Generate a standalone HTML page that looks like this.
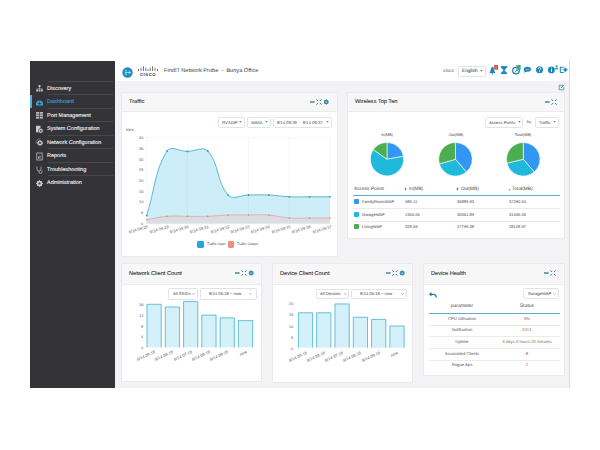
<!DOCTYPE html>
<html><head><meta charset="utf-8">
<style>
*{box-sizing:border-box;margin:0;padding:0}
html,body{width:600px;height:450px;background:#fff;overflow:hidden;font-family:"Liberation Sans",sans-serif;position:relative}
.a{position:absolute}
#side{left:30px;top:61px;width:85px;height:327px;background:#343438}
.sep{position:absolute;left:17.5px;width:65px;height:1px;background:#48484c}
.mi{position:absolute;left:17.3px;font-size:5.5px;color:#ececec;font-weight:normal;white-space:nowrap;line-height:6px;-webkit-text-stroke:0.12px #ececec}
#hdr{left:115px;top:60px;width:454px;height:21px;background:#fff}
#content{left:115px;top:81px;width:454px;height:307px;background:#f3f3f5}
#rline{left:569px;top:60px;width:1px;height:328px;background:#dcdcdc}
.panel{position:absolute;background:#fff;border:1px solid #eaeaed}
.ph{position:absolute;left:0;top:0;right:0;background:#f7f7f8;border-bottom:1px solid #ececee}
.pt{position:absolute;font-size:5.6px;color:#2a2a2a;white-space:nowrap;line-height:6px;-webkit-text-stroke:0.08px #2a2a2a}
.dd{position:absolute;border:0.8px solid #e3e3e3;border-radius:1.5px;background:#fff}
.sm{font-size:3.6px;color:#555;white-space:nowrap;line-height:4px;position:absolute;transform:matrix(1,0.001,0,1,0,0)}
.uh{transform:matrix(1,0.001,0,1,0,0)}
</style></head><body>
<div id="side" class="a">
<div class="sep" style="top:20.00px"></div>
<div class="sep" style="top:33.43px"></div>
<div class="sep" style="top:46.86px"></div>
<div class="sep" style="top:60.29px"></div>
<div class="sep" style="top:73.72px"></div>
<div class="sep" style="top:87.15px"></div>
<div class="sep" style="top:100.58px"></div>
<div class="sep" style="top:114.01px"></div>
<div class="mi uh" style="top:24.00px">Discovery</div>
<div class="mi uh" style="top:37.43px;color:#3aa3d6;-webkit-text-stroke:0.1px #3aa3d6">Dashboard</div>
<div class="mi uh" style="top:50.86px">Port Management</div>
<div class="mi uh" style="top:64.29px">System Configuration</div>
<div class="mi uh" style="top:77.72px">Network Configuration</div>
<div class="mi uh" style="top:91.15px">Reports</div>
<div class="mi uh" style="top:104.58px">Troubleshooting</div>
<div class="mi uh" style="top:118.01px">Administration</div>
<div class="a" style="left:0;top:34px;width:2px;height:13.4px;background:#4fb0de"></div>
<svg class="a" style="left:5px;top:23px" width="9" height="9" viewBox="0 0 9 9"><g fill="#c4c4c4"><rect x="3.5" y="1" width="2" height="2"/><rect x="4.2" y="3" width="0.6" height="2"/><rect x="1.5" y="4.6" width="6" height="0.6"/><rect x="1.2" y="5.5" width="1.8" height="2"/><rect x="3.6" y="5.5" width="1.8" height="2"/><rect x="6" y="5.5" width="1.8" height="2"/></g></svg>
<svg class="a" style="left:5px;top:36.5px" width="9" height="9" viewBox="0 0 9 9"><path d="M1 7.5 V6 A3.5 3.5 0 0 1 8 6 V7.5 Z" fill="#3aa3d6"/><circle cx="4.5" cy="5.6" r="1.1" fill="#343438"/><path d="M2.2 5.3 L3.2 5.7 M6.8 5.3 L5.8 5.7 M4.5 3.2 V4.2" stroke="#343438" stroke-width="0.5"/></svg>
<svg class="a" style="left:5px;top:50px" width="9" height="9" viewBox="0 0 9 9"><g fill="#b8b8b8"><rect x="1" y="1" width="7" height="1.8"/><rect x="1" y="3.4" width="7" height="1.8"/><rect x="1" y="5.8" width="7" height="1.8"/></g><g fill="#343438"><rect x="4.2" y="1" width="0.6" height="7"/></g></svg>
<svg class="a" style="left:5px;top:63.5px" width="9" height="9" viewBox="0 0 9 9"><rect x="1" y="0.8" width="4.5" height="6.5" fill="#cfcfcf"/><circle cx="5.8" cy="5.8" r="2.4" fill="#cfcfcf" stroke="#323236" stroke-width="0.6"/><circle cx="5.8" cy="5.8" r="0.9" fill="#323236"/></svg>
<svg class="a" style="left:5px;top:77px" width="9" height="9" viewBox="0 0 9 9"><path d="M1.2 5.5 A3.5 3.5 0 0 1 5.5 1.1" fill="none" stroke="#9a9a9a" stroke-width="0.6"/><circle cx="5" cy="5" r="2" fill="none" stroke="#c8c8c8" stroke-width="1.2"/><g stroke="#c8c8c8" stroke-width="0.9"><path d="M5 2 V8 M2 5 H8 M2.9 2.9 L7.1 7.1 M7.1 2.9 L2.9 7.1"/></g><circle cx="5" cy="5" r="0.9" fill="#343438"/></svg>
<svg class="a" style="left:5px;top:90.5px" width="9" height="9" viewBox="0 0 9 9"><rect x="1.8" y="1" width="5.4" height="7" fill="none" stroke="#cfcfcf" stroke-width="0.7"/><rect x="3" y="4.5" width="0.8" height="2.2" fill="#cfcfcf"/><rect x="4.6" y="3.5" width="0.8" height="3.2" fill="#cfcfcf"/></svg>
<svg class="a" style="left:5px;top:104px" width="9" height="9" viewBox="0 0 9 9"><path d="M2 1.5 V4 A2 2 0 0 0 6 4 V1.5 M4 6 V7 A1.5 1.5 0 0 0 7 7 V5.5" fill="none" stroke="#c8c8c8" stroke-width="0.7"/></svg>
<svg class="a" style="left:5px;top:117.5px" width="9" height="9" viewBox="0 0 9 9"><circle cx="4.5" cy="4.5" r="2.2" fill="none" stroke="#c8c8c8" stroke-width="1.3"/><g stroke="#c8c8c8" stroke-width="1"><path d="M4.5 1.2 V7.8 M1.2 4.5 H7.8 M2.2 2.2 L6.8 6.8 M6.8 2.2 L2.2 6.8"/></g><circle cx="4.5" cy="4.5" r="1" fill="#343438"/></svg>
</div>
<div id="hdr" class="a">
<svg class="a" style="left:6.5px;top:6.5px" width="11" height="11" viewBox="0 0 11 11"><circle cx="5.5" cy="5.5" r="5.2" fill="#1f8dc6"/><g stroke="#fff" stroke-width="0.7" fill="none"><path d="M3 3.8 H5 M3 5.5 H5.2 M3 7.2 H5 M5.5 5.5 H8.2 M7 4.2 L8.3 5.5 L7 6.8"/></g></svg>
<svg class="a" style="left:23px;top:6px" width="20" height="6" viewBox="0 0 20 6"><g fill="#555"><rect x="0.2" y="3" width="0.8" height="2"/><rect x="2.6" y="1.6" width="0.8" height="3.4"/><rect x="5" y="0.2" width="0.8" height="4.8"/><rect x="7.4" y="1.6" width="0.8" height="3.4"/><rect x="9.6" y="3" width="0.8" height="2"/><rect x="11.8" y="1.6" width="0.8" height="3.4"/><rect x="14.2" y="0.2" width="0.8" height="4.8"/><rect x="16.6" y="1.6" width="0.8" height="3.4"/><rect x="19" y="3" width="0.8" height="2"/></g></svg>
<div class="a uh" style="left:24.8px;top:12.6px;font-size:4.3px;font-weight:bold;color:#333;letter-spacing:0.5px;line-height:4.5px">CISCO</div>
<div class="a uh" style="left:49px;top:7px;font-size:5.6px;color:#444;white-space:pre;line-height:6px">FindIT Network Probe  -  Bunya Office</div>
<div class="a uh" style="left:327.5px;top:7.9px;font-size:4.8px;color:#555;line-height:6px">cisco</div>
<div class="a" style="left:343.3px;top:6.2px;width:28px;height:10.5px;border:0.8px solid #e3e3e3;border-radius:1.5px"></div><div class="a uh" style="left:347.2px;top:8.1px;font-size:4.8px;color:#222;line-height:6px">English</div><svg class="a" style="left:365px;top:10.3px" width="3" height="2" viewBox="0 0 3 2"><path d="M0.3 0.3 H2.7 L1.5 1.6 Z" fill="#444"/></svg>
<svg class="a" style="left:370px;top:0" width="84" height="21" viewBox="0 0 84 21">
<g fill="#1a86bf">
<path d="M4.4 12.9 Q5.6 11.8 5.8 9.2 Q6 6.7 7.4 6.7 Q8.8 6.7 9 9.2 Q9.2 11.8 10.4 12.9 Z"/><rect x="6.9" y="13" width="1" height="1.4"/>
<path d="M16 6.3 H22 V7.4 L19.4 10.2 L22 13 V14 H16 V13 L18.6 10.2 L16 7.4 Z"/>
</g>
<rect x="9.2" y="5" width="3.8" height="4.6" fill="#d4463f"/><rect x="10.8" y="5.8" width="0.6" height="2.8" fill="#f4c0bd"/>
<path d="M15.6 6.6 H22.4" stroke="#1a86bf" stroke-width="0.6"/>
<circle cx="31" cy="10.6" r="3.3" fill="none" stroke="#1a78b0" stroke-width="1.2"/>
<path d="M30 12.5 L32 9.5 L33.5 11.5" fill="none" stroke="#1a86bf" stroke-width="1"/>
<rect x="31.5" y="5" width="4.2" height="4.6" fill="#3daa86"/>
<ellipse cx="42.4" cy="9.3" rx="3.6" ry="2.5" fill="#1a86bf"/><path d="M39.5 10.5 L39.3 13 L41.5 11.2 Z" fill="#1a86bf"/>
<rect x="40.6" y="9" width="3.6" height="0.6" fill="#bfe6f5"/>
<circle cx="54.5" cy="9.8" r="3.5" fill="#1a86bf"/>
<path d="M53.2 8.8 Q53.2 7.4 54.5 7.4 Q55.8 7.4 55.8 8.6 Q55.8 9.4 54.6 10 V10.8" fill="none" stroke="#fff" stroke-width="0.8"/><rect x="54.2" y="11.3" width="0.8" height="0.8" fill="#fff"/>
<circle cx="66.4" cy="9.9" r="3.4" fill="#1a86bf"/>
<rect x="66" y="9" width="0.9" height="3" fill="#fff"/><rect x="66" y="7.5" width="0.9" height="0.9" fill="#fff"/>
<circle cx="71.6" cy="6.2" r="1.1" fill="#3daa86"/><path d="M69.8 9.4 Q69.8 7.4 71.6 7.4 Q73.4 7.4 73.4 9.4 Z" fill="#3daa86"/>
<path d="M78.6 7.2 H76 Q75.3 7.2 75.3 7.9 V11.8 Q75.3 12.5 76 12.5 H78.6" fill="none" stroke="#1a86bf" stroke-width="1.1"/>
<path d="M77.5 9.8 H81 M80 8.2 L82 9.8 L80 11.4 Z" fill="#1a86bf" stroke="#1a86bf" stroke-width="1.1"/>
</svg>
</div>
<div id="content" class="a"></div>
<div id="rline" class="a"></div>
<!--PANELS-->
<div class="panel" style="left:121px;top:92px;width:217px;height:165px"><div class="ph" style="height:19px"></div></div>
<div class="pt uh" style="left:129px;top:97.90px">Traffic</div>
<div class="panel" style="left:347px;top:92px;width:218px;height:147px"><div class="ph" style="height:19px"></div></div>
<div class="pt uh" style="left:355px;top:97.90px">Wireless Top Ten</div>
<div class="panel" style="left:121px;top:263px;width:141px;height:119px"><div class="ph" style="height:21px"></div></div>
<div class="pt uh" style="left:129px;top:269.90px">Network Client Count</div>
<div class="panel" style="left:272px;top:263px;width:141px;height:120px"><div class="ph" style="height:21px"></div></div>
<div class="pt uh" style="left:280px;top:269.90px">Device Client Count</div>
<div class="panel" style="left:423px;top:263px;width:142px;height:113px"><div class="ph" style="height:21px"></div></div>
<div class="pt uh" style="left:431px;top:269.90px">Device Health</div>
<svg class="a" style="left:0;top:0" width="600" height="450" viewBox="0 0 600 450">
<path d="M146.7 137.5 H330" stroke="#f0f0f0" stroke-width="0.5"/>
<path d="M248.5 137.5 V223.6" stroke="#ededed" stroke-width="0.5"/>
<path d="M289.3 137.5 V223.6" stroke="#ededed" stroke-width="0.5"/>
<path d="M330 137.5 V223.6" stroke="#ededed" stroke-width="0.5"/>
<path d="M146.70 215.60 C154.85 189.76 154.54 170.74 167.07 151.00 C170.83 145.06 179.29 151.40 187.43 151.40 C195.58 151.40 202.99 145.83 207.80 151.00 C219.29 163.35 216.68 182.79 228.17 195.20 C232.97 200.39 240.39 195.04 248.53 195.00 C256.68 194.96 260.77 194.64 268.90 195.00 C277.06 195.36 281.10 196.44 289.27 196.80 C297.40 197.16 301.49 196.80 309.63 196.80 C317.78 196.80 321.85 196.80 330.00 196.80 L330 223.6 L146.7 223.6 Z" fill="#cdeef9"/>
<defs><clipPath id="bfill"><path d="M146.70 215.60 C154.85 189.76 154.54 170.74 167.07 151.00 C170.83 145.06 179.29 151.40 187.43 151.40 C195.58 151.40 202.99 145.83 207.80 151.00 C219.29 163.35 216.68 182.79 228.17 195.20 C232.97 200.39 240.39 195.04 248.53 195.00 C256.68 194.96 260.77 194.64 268.90 195.00 C277.06 195.36 281.10 196.44 289.27 196.80 C297.40 197.16 301.49 196.80 309.63 196.80 C317.78 196.80 321.85 196.80 330.00 196.80 L330 223.6 L146.7 223.6 Z"/></clipPath></defs>
<g clip-path="url(#bfill)">
<path d="M187.4 137 V223.6" stroke="#bfe0ea" stroke-width="0.5"/>
<path d="M248.5 137 V223.6" stroke="#bfe0ea" stroke-width="0.5"/>
<path d="M289.3 137 V223.6" stroke="#bfe0ea" stroke-width="0.5"/>
<path d="M330 137 V223.6" stroke="#bfe0ea" stroke-width="0.5"/>
</g>
<path d="M146.70 219.70 C154.85 218.34 158.86 216.98 167.07 216.30 C175.16 215.62 179.29 216.30 187.43 216.30 C195.58 216.30 199.66 216.56 207.80 216.30 C215.95 216.04 220.01 215.26 228.17 215.00 C236.31 214.74 240.39 215.00 248.53 215.00 C256.68 215.00 260.80 214.40 268.90 215.00 C277.09 215.60 281.08 217.40 289.27 218.00 C297.37 218.60 301.49 218.00 309.63 218.00 C317.78 218.00 321.85 218.00 330.00 218.00 L330 223.6 L146.7 223.6 Z" fill="#dcdde1"/>
<path d="M146.7 137.5 V223.6" stroke="#ececec" stroke-width="0.5" fill="none"/>
<path d="M146.70 215.60 C154.85 189.76 154.54 170.74 167.07 151.00 C170.83 145.06 179.29 151.40 187.43 151.40 C195.58 151.40 202.99 145.83 207.80 151.00 C219.29 163.35 216.68 182.79 228.17 195.20 C232.97 200.39 240.39 195.04 248.53 195.00 C256.68 194.96 260.77 194.64 268.90 195.00 C277.06 195.36 281.10 196.44 289.27 196.80 C297.40 197.16 301.49 196.80 309.63 196.80 C317.78 196.80 321.85 196.80 330.00 196.80" stroke="#3ba7c3" stroke-width="0.8" fill="none"/>
<path d="M146.70 219.70 C154.85 218.34 158.86 216.98 167.07 216.30 C175.16 215.62 179.29 216.30 187.43 216.30 C195.58 216.30 199.66 216.56 207.80 216.30 C215.95 216.04 220.01 215.26 228.17 215.00 C236.31 214.74 240.39 215.00 248.53 215.00 C256.68 215.00 260.80 214.40 268.90 215.00 C277.09 215.60 281.08 217.40 289.27 218.00 C297.37 218.60 301.49 218.00 309.63 218.00 C317.78 218.00 321.85 218.00 330.00 218.00" stroke="#ec8b86" stroke-width="0.6" fill="none"/>
<circle cx="146.70" cy="215.6" r="0.9" fill="#2f9bb8"/>
<circle cx="167.07" cy="151" r="0.9" fill="#2f9bb8"/>
<circle cx="187.43" cy="151.4" r="0.9" fill="#2f9bb8"/>
<circle cx="207.80" cy="151" r="0.9" fill="#2f9bb8"/>
<circle cx="228.17" cy="195.2" r="0.9" fill="#2f9bb8"/>
<circle cx="248.53" cy="195" r="0.9" fill="#2f9bb8"/>
<circle cx="268.90" cy="195" r="0.9" fill="#2f9bb8"/>
<circle cx="289.27" cy="196.8" r="0.9" fill="#2f9bb8"/>
<circle cx="309.63" cy="196.8" r="0.9" fill="#2f9bb8"/>
<circle cx="330.00" cy="196.8" r="0.9" fill="#2f9bb8"/>
<circle cx="146.70" cy="219.7" r="0.7" fill="#e8706a"/>
<circle cx="167.07" cy="216.3" r="0.7" fill="#e8706a"/>
<circle cx="187.43" cy="216.3" r="0.7" fill="#e8706a"/>
<circle cx="207.80" cy="216.3" r="0.7" fill="#e8706a"/>
<circle cx="228.17" cy="215" r="0.7" fill="#e8706a"/>
<circle cx="248.53" cy="215" r="0.7" fill="#e8706a"/>
<circle cx="268.90" cy="215" r="0.7" fill="#e8706a"/>
<circle cx="289.27" cy="218" r="0.7" fill="#e8706a"/>
<circle cx="309.63" cy="218" r="0.7" fill="#e8706a"/>
<circle cx="330.00" cy="218" r="0.7" fill="#e8706a"/>
</svg>
<div class="sm" style="right:456.80px;top:221.86px;font-size:3.9px;line-height:4.68px;color:#555;">0</div>
<div class="sm" style="right:456.80px;top:211.16px;font-size:3.9px;line-height:4.68px;color:#555;">5</div>
<div class="sm" style="right:456.80px;top:200.46px;font-size:3.9px;line-height:4.68px;color:#555;">10</div>
<div class="sm" style="right:456.80px;top:189.76px;font-size:3.9px;line-height:4.68px;color:#555;">15</div>
<div class="sm" style="right:456.80px;top:179.06px;font-size:3.9px;line-height:4.68px;color:#555;">20</div>
<div class="sm" style="right:456.80px;top:168.36px;font-size:3.9px;line-height:4.68px;color:#555;">25</div>
<div class="sm" style="right:456.80px;top:157.66px;font-size:3.9px;line-height:4.68px;color:#555;">30</div>
<div class="sm" style="right:456.80px;top:146.96px;font-size:3.9px;line-height:4.68px;color:#555;">35</div>
<div class="sm" style="right:456.80px;top:136.26px;font-size:3.9px;line-height:4.68px;color:#555;">40</div>
<div class="sm" style="left:125.80px;top:128.22px;font-size:3.8px;line-height:4.56px;color:#555;">Kb/s</div>
<div class="sm" style="left:121.20px;top:225.3px;width:26px;text-align:right;font-size:4.1px;line-height:4.2px;color:#555;transform-origin:100% 0;transform:rotate(-17deg)">8/14 09:28</div>
<div class="sm" style="left:141.57px;top:225.3px;width:26px;text-align:right;font-size:4.1px;line-height:4.2px;color:#555;transform-origin:100% 0;transform:rotate(-17deg)">8/14 09:29</div>
<div class="sm" style="left:161.93px;top:225.3px;width:26px;text-align:right;font-size:4.1px;line-height:4.2px;color:#555;transform-origin:100% 0;transform:rotate(-17deg)">8/14 09:30</div>
<div class="sm" style="left:182.30px;top:225.3px;width:26px;text-align:right;font-size:4.1px;line-height:4.2px;color:#555;transform-origin:100% 0;transform:rotate(-17deg)">8/14 09:31</div>
<div class="sm" style="left:202.67px;top:225.3px;width:26px;text-align:right;font-size:4.1px;line-height:4.2px;color:#555;transform-origin:100% 0;transform:rotate(-17deg)">8/14 09:32</div>
<div class="sm" style="left:223.03px;top:225.3px;width:26px;text-align:right;font-size:4.1px;line-height:4.2px;color:#555;transform-origin:100% 0;transform:rotate(-17deg)">8/14 09:33</div>
<div class="sm" style="left:243.40px;top:225.3px;width:26px;text-align:right;font-size:4.1px;line-height:4.2px;color:#555;transform-origin:100% 0;transform:rotate(-17deg)">8/14 09:34</div>
<div class="sm" style="left:263.77px;top:225.3px;width:26px;text-align:right;font-size:4.1px;line-height:4.2px;color:#555;transform-origin:100% 0;transform:rotate(-17deg)">8/14 09:35</div>
<div class="sm" style="left:284.13px;top:225.3px;width:26px;text-align:right;font-size:4.1px;line-height:4.2px;color:#555;transform-origin:100% 0;transform:rotate(-17deg)">8/14 09:36</div>
<div class="sm" style="left:304.50px;top:225.3px;width:26px;text-align:right;font-size:4.1px;line-height:4.2px;color:#555;transform-origin:100% 0;transform:rotate(-17deg)">8/14 09:37</div>
<div class="a" style="left:197.2px;top:240.8px;width:6.8px;height:6.8px;background:#1ea8dc;border-radius:1.4px"></div>
<div class="sm" style="left:206.5px;top:242.2px;font-size:3.5px;color:#444">Traffic Input</div>
<div class="a" style="left:227.5px;top:240.8px;width:6.8px;height:6.8px;background:#f28b80;border-radius:1.4px"></div>
<div class="sm" style="left:237px;top:242.2px;font-size:3.5px;color:#444">Traffic Output</div>
<svg class="a" style="left:309px;top:97.6px" width="22" height="8" viewBox="0 0 22 8"><rect x="1" y="3.3" width="4.6" height="1.4" fill="#3d7f8c"/><g stroke="#3d7f8c" stroke-width="0.7" fill="none"><path d="M7.2 1.2 L8.6 2.6 M12.8 1.2 L11.4 2.6 M7.2 6.8 L8.6 5.4 M12.8 6.8 L11.4 5.4"/></g><g fill="#3d7f8c"><path d="M9.1 1.6 V3.1 H7.6 Z M10.9 1.6 V3.1 H12.4 Z M9.1 6.4 V4.9 H7.6 Z M10.9 6.4 V4.9 H12.4 Z"/></g><circle cx="17.2" cy="4" r="1.7" fill="none" stroke="#3a8ea8" stroke-width="1.2"/><g stroke="#3a8ea8" stroke-width="0.8"><path d="M17.2 1.4 V6.6 M14.6 4 H19.8 M15.4 2.2 L19 5.8 M19 2.2 L15.4 5.8"/></g><circle cx="17.2" cy="4" r="0.6" fill="#d8eef5"/></svg>
<div class="dd" style="left:217.5px;top:117.1px;width:27.0px;height:10.5px"></div>
<div class="sm" style="left:221.50px;top:119.83px;font-size:4.2px;line-height:5.04px;color:#444;white-space:pre">RV345P</div>
<svg class="a" style="left:238.60px;top:121.35px" width="3" height="2" viewBox="0 0 3 2"><path d="M0.3 0.3 H2.7 L1.5 1.6 Z" fill="#444"/></svg>
<div class="dd" style="left:247px;top:117.1px;width:23.80000000000001px;height:10.5px"></div>
<div class="sm" style="left:250.60px;top:119.83px;font-size:4.2px;line-height:5.04px;color:#444;white-space:pre">WAN1</div>
<svg class="a" style="left:265.00px;top:121.35px" width="3" height="2" viewBox="0 0 3 2"><path d="M0.3 0.3 H2.7 L1.5 1.6 Z" fill="#444"/></svg>
<div class="dd" style="left:273px;top:117.1px;width:58.80000000000001px;height:10.5px"></div>
<div class="sm" style="left:277.00px;top:119.83px;font-size:4.2px;line-height:5.04px;color:#444;white-space:pre">8/14 09:39  -  8/14 09:37</div>
<svg class="a" style="left:325.80px;top:121.35px" width="3" height="2" viewBox="0 0 3 2"><path d="M0.3 0.3 H2.7 L1.5 1.6 Z" fill="#444"/></svg>
<svg class="a" style="left:544px;top:97.6px" width="22" height="8" viewBox="0 0 22 8"><rect x="1" y="3.3" width="4.6" height="1.4" fill="#3d7f8c"/><g stroke="#3d7f8c" stroke-width="0.7" fill="none"><path d="M7.2 1.2 L8.6 2.6 M12.8 1.2 L11.4 2.6 M7.2 6.8 L8.6 5.4 M12.8 6.8 L11.4 5.4"/></g><g fill="#3d7f8c"><path d="M9.1 1.6 V3.1 H7.6 Z M10.9 1.6 V3.1 H12.4 Z M9.1 6.4 V4.9 H7.6 Z M10.9 6.4 V4.9 H12.4 Z"/></g></svg>
<svg class="a" style="left:558.3px;top:84px" width="7" height="7" viewBox="0 0 7 7"><path d="M5 1.2 H1.2 V5.8 H5.8 V3" fill="none" stroke="#3a8ea8" stroke-width="0.8"/><path d="M3 4 L6.2 0.8" stroke="#3a8ea8" stroke-width="0.8"/></svg>
<div class="dd" style="left:485.3px;top:117.1px;width:37.99999999999994px;height:10.5px"></div>
<div class="sm" style="left:488.90px;top:119.83px;font-size:4.2px;line-height:5.04px;color:#444;white-space:pre">Access Points</div>
<svg class="a" style="left:517.70px;top:121.35px" width="3" height="2" viewBox="0 0 3 2"><path d="M0.3 0.3 H2.7 L1.5 1.6 Z" fill="#444"/></svg>
<div class="sm" style="left:526.50px;top:119.80px;font-size:4.0px;line-height:4.80px;color:#555;">by</div>
<div class="dd" style="left:535.2px;top:117.1px;width:23.699999999999932px;height:10.5px"></div>
<div class="sm" style="left:539.00px;top:119.83px;font-size:4.2px;line-height:5.04px;color:#444;white-space:pre">Traffic</div>
<svg class="a" style="left:553.00px;top:121.35px" width="3" height="2" viewBox="0 0 3 2"><path d="M0.3 0.3 H2.7 L1.5 1.6 Z" fill="#444"/></svg>
<svg class="a" style="left:0;top:0" width="600" height="450" viewBox="0 0 600 450"><path d="M387 159.2 L387.00 142.50 A16.7 16.7 0 0 1 403.45 156.30 Z" fill="#3396f2" stroke="#fff" stroke-width="0.6"/><path d="M387 159.2 L403.45 156.30 A16.7 16.7 0 1 1 373.32 149.62 Z" fill="#20b9dc" stroke="#fff" stroke-width="0.6"/><path d="M387 159.2 L373.32 149.62 A16.7 16.7 0 0 1 387.00 142.50 Z" fill="#4cae50" stroke="#fff" stroke-width="0.6"/><path d="M455.5 159.3 L455.50 142.50 A16.8 16.8 0 0 1 466.41 172.07 Z" fill="#3396f2" stroke="#fff" stroke-width="0.6"/><path d="M455.5 159.3 L466.41 172.07 A16.8 16.8 0 0 1 439.35 163.93 Z" fill="#20b9dc" stroke="#fff" stroke-width="0.6"/><path d="M455.5 159.3 L439.35 163.93 A16.8 16.8 0 0 1 455.50 142.50 Z" fill="#4cae50" stroke="#fff" stroke-width="0.6"/><path d="M523.3 159.3 L523.30 142.50 A16.8 16.8 0 0 1 534.32 171.98 Z" fill="#3396f2" stroke="#fff" stroke-width="0.6"/><path d="M523.3 159.3 L534.32 171.98 A16.8 16.8 0 0 1 506.93 163.08 Z" fill="#20b9dc" stroke="#fff" stroke-width="0.6"/><path d="M523.3 159.3 L506.93 163.08 A16.8 16.8 0 0 1 523.30 142.50 Z" fill="#4cae50" stroke="#fff" stroke-width="0.6"/></svg>
<div class="sm" style="left:347.00px;width:80px;text-align:center;top:133.06px;font-size:3.9px;line-height:4.68px;color:#444;">In(MB)</div>
<div class="sm" style="left:415.50px;width:80px;text-align:center;top:133.06px;font-size:3.9px;line-height:4.68px;color:#444;">Out(MB)</div>
<div class="sm" style="left:483.30px;width:80px;text-align:center;top:133.06px;font-size:3.9px;line-height:4.68px;color:#444;">Total(MB)</div>
<div class="sm" style="left:353.60px;top:186.12px;font-size:4.8px;line-height:5.76px;color:#444;">Access Points</div>
<svg class="a" style="left:404.20px;top:187.00px" width="3" height="4" viewBox="0 0 3 4"><path d="M0.4 1.7 H2.6 L1.5 0.5 Z M0.4 2.3 H2.6 L1.5 3.5 Z" fill="#555"/></svg>
<div class="sm" style="left:409.30px;top:186.18px;font-size:4.7px;line-height:5.64px;color:#444;">In(MB)</div>
<svg class="a" style="left:456.30px;top:187.00px" width="3" height="4" viewBox="0 0 3 4"><path d="M0.4 1.7 H2.6 L1.5 0.5 Z M0.4 2.3 H2.6 L1.5 3.5 Z" fill="#555"/></svg>
<div class="sm" style="left:460.60px;top:186.18px;font-size:4.7px;line-height:5.64px;color:#444;">Out(MB)</div>
<svg class="a" style="left:508.20px;top:188.10px" width="3" height="3" viewBox="0 0 3 3"><path d="M0.4 1.4 H2.6 L1.5 2.6 Z" fill="#444"/></svg>
<div class="sm" style="left:512.30px;top:186.12px;font-size:4.8px;line-height:5.76px;color:#444;">Total(MB)</div>
<div class="a" style="left:353px;top:194.6px;width:206.5px;height:0.9px;background:#5aaccc"></div>
<div class="a" style="left:353px;top:208px;width:206.5px;height:0.6px;background:#ebebeb"></div>
<div class="a" style="left:353px;top:221px;width:206.5px;height:0.6px;background:#ebebeb"></div>
<div class="a" style="left:353.6px;top:198.60px;width:5.2px;height:5px;background:#3396f2;border-radius:1px"></div>
<div class="sm" style="left:361.90px;top:199.64px;font-size:4.1px;line-height:4.92px;color:#444;">FamilyRoomWAP</div>
<div class="sm" style="left:404.80px;top:199.64px;font-size:4.1px;line-height:4.92px;color:#444;">480.11</div>
<div class="sm" style="left:456.90px;top:199.64px;font-size:4.1px;line-height:4.92px;color:#444;">36889.93</div>
<div class="sm" style="left:508.50px;top:199.64px;font-size:4.1px;line-height:4.92px;color:#444;">37290.04</div>
<div class="a" style="left:353.6px;top:211.60px;width:5.2px;height:5px;background:#20b9dc;border-radius:1px"></div>
<div class="sm" style="left:361.90px;top:212.64px;font-size:4.1px;line-height:4.92px;color:#444;">GarageWAP</div>
<div class="sm" style="left:404.80px;top:212.64px;font-size:4.1px;line-height:4.92px;color:#444;">1354.06</div>
<div class="sm" style="left:456.90px;top:212.64px;font-size:4.1px;line-height:4.92px;color:#444;">30051.89</div>
<div class="sm" style="left:508.50px;top:212.64px;font-size:4.1px;line-height:4.92px;color:#444;">31406.05</div>
<div class="a" style="left:353.6px;top:224.10px;width:5.2px;height:5px;background:#4cae50;border-radius:1px"></div>
<div class="sm" style="left:361.90px;top:225.14px;font-size:4.1px;line-height:4.92px;color:#444;">LivingWAP</div>
<div class="sm" style="left:404.80px;top:225.14px;font-size:4.1px;line-height:4.92px;color:#444;">328.59</div>
<div class="sm" style="left:456.90px;top:225.14px;font-size:4.1px;line-height:4.92px;color:#444;">27799.38</div>
<div class="sm" style="left:508.50px;top:225.14px;font-size:4.1px;line-height:4.92px;color:#444;">28128.97</div>
<svg class="a" style="left:233.5px;top:269px" width="22" height="8" viewBox="0 0 22 8"><rect x="1" y="3.3" width="4.6" height="1.4" fill="#3d7f8c"/><g stroke="#3d7f8c" stroke-width="0.7" fill="none"><path d="M7.2 1.2 L8.6 2.6 M12.8 1.2 L11.4 2.6 M7.2 6.8 L8.6 5.4 M12.8 6.8 L11.4 5.4"/></g><g fill="#3d7f8c"><path d="M9.1 1.6 V3.1 H7.6 Z M10.9 1.6 V3.1 H12.4 Z M9.1 6.4 V4.9 H7.6 Z M10.9 6.4 V4.9 H12.4 Z"/></g><circle cx="17.2" cy="4" r="1.7" fill="none" stroke="#3a8ea8" stroke-width="1.2"/><g stroke="#3a8ea8" stroke-width="0.8"><path d="M17.2 1.4 V6.6 M14.6 4 H19.8 M15.4 2.2 L19 5.8 M19 2.2 L15.4 5.8"/></g><circle cx="17.2" cy="4" r="0.6" fill="#d8eef5"/></svg>
<div class="dd" style="left:168.3px;top:288.2px;width:29.399999999999977px;height:11.5px"></div>
<div class="sm" style="left:172.50px;top:291.43px;font-size:4.2px;line-height:5.04px;color:#444;white-space:pre">All SSIDs</div>
<svg class="a" style="left:191.80px;top:292.95px" width="3" height="2" viewBox="0 0 3 2"><path d="M0.4 0.4 L1.5 1.5 L2.6 0.4" fill="none" stroke="#666" stroke-width="0.5"/></svg>
<div class="dd" style="left:199.8px;top:288.2px;width:57.099999999999966px;height:11.5px"></div>
<div class="sm" style="left:209.00px;top:291.43px;font-size:4.2px;line-height:5.04px;color:#444;white-space:pre">8/14 05:18 ~ now</div>
<svg class="a" style="left:249.30px;top:292.95px" width="3" height="2" viewBox="0 0 3 2"><path d="M0.4 0.4 L1.5 1.5 L2.6 0.4" fill="none" stroke="#666" stroke-width="0.5"/></svg>
<svg class="a" style="left:0;top:0" width="600" height="450" viewBox="0 0 600 450"><rect x="146.60" y="303.90" width="15" height="43.50" fill="#d4f0f9"/><path d="M147.00 347.4 V304.30 H161.20 V347.4" fill="none" stroke="#4db6cf" stroke-width="0.8"/><rect x="164.88" y="306.62" width="15" height="40.78" fill="#d4f0f9"/><path d="M165.28 347.4 V307.02 H179.48 V347.4" fill="none" stroke="#4db6cf" stroke-width="0.8"/><rect x="183.16" y="301.18" width="15" height="46.22" fill="#d4f0f9"/><path d="M183.56 347.4 V301.58 H197.76 V347.4" fill="none" stroke="#4db6cf" stroke-width="0.8"/><rect x="201.44" y="314.77" width="15" height="32.62" fill="#d4f0f9"/><path d="M201.84 347.4 V315.17 H216.04 V347.4" fill="none" stroke="#4db6cf" stroke-width="0.8"/><rect x="219.72" y="317.49" width="15" height="29.91" fill="#d4f0f9"/><path d="M220.12 347.4 V317.89 H234.32 V347.4" fill="none" stroke="#4db6cf" stroke-width="0.8"/><rect x="238.00" y="320.21" width="15" height="27.19" fill="#d4f0f9"/><path d="M238.40 347.4 V320.61 H252.60 V347.4" fill="none" stroke="#4db6cf" stroke-width="0.8"/></svg>
<div class="sm" style="right:456.80px;top:346.26px;font-size:3.9px;line-height:4.68px;color:#555;">0</div>
<div class="sm" style="right:456.80px;top:335.38px;font-size:3.9px;line-height:4.68px;color:#555;">4</div>
<div class="sm" style="right:456.80px;top:324.51px;font-size:3.9px;line-height:4.68px;color:#555;">8</div>
<div class="sm" style="right:456.80px;top:313.63px;font-size:3.9px;line-height:4.68px;color:#555;">12</div>
<div class="sm" style="right:456.80px;top:302.76px;font-size:3.9px;line-height:4.68px;color:#555;">16</div>
<div class="sm" style="left:124.10px;top:350.40px;width:30px;text-align:right;font-size:4.1px;line-height:4.2px;color:#555;transform-origin:100% 0;transform:rotate(-25deg)">8/14 05:18</div>
<div class="sm" style="left:142.38px;top:350.40px;width:30px;text-align:right;font-size:4.1px;line-height:4.2px;color:#555;transform-origin:100% 0;transform:rotate(-25deg)">8/14 06:18</div>
<div class="sm" style="left:160.66px;top:350.40px;width:30px;text-align:right;font-size:4.1px;line-height:4.2px;color:#555;transform-origin:100% 0;transform:rotate(-25deg)">8/14 07:18</div>
<div class="sm" style="left:178.94px;top:350.40px;width:30px;text-align:right;font-size:4.1px;line-height:4.2px;color:#555;transform-origin:100% 0;transform:rotate(-25deg)">8/14 08:18</div>
<div class="sm" style="left:197.22px;top:350.40px;width:30px;text-align:right;font-size:4.1px;line-height:4.2px;color:#555;transform-origin:100% 0;transform:rotate(-25deg)">8/14 09:18</div>
<div class="sm" style="left:215.50px;top:350.40px;width:30px;text-align:right;font-size:4.1px;line-height:4.2px;color:#555;transform-origin:100% 0;transform:rotate(-25deg)">now</div>
<svg class="a" style="left:384.6px;top:269px" width="22" height="8" viewBox="0 0 22 8"><rect x="1" y="3.3" width="4.6" height="1.4" fill="#3d7f8c"/><g stroke="#3d7f8c" stroke-width="0.7" fill="none"><path d="M7.2 1.2 L8.6 2.6 M12.8 1.2 L11.4 2.6 M7.2 6.8 L8.6 5.4 M12.8 6.8 L11.4 5.4"/></g><g fill="#3d7f8c"><path d="M9.1 1.6 V3.1 H7.6 Z M10.9 1.6 V3.1 H12.4 Z M9.1 6.4 V4.9 H7.6 Z M10.9 6.4 V4.9 H12.4 Z"/></g><circle cx="17.2" cy="4" r="1.7" fill="none" stroke="#3a8ea8" stroke-width="1.2"/><g stroke="#3a8ea8" stroke-width="0.8"><path d="M17.2 1.4 V6.6 M14.6 4 H19.8 M15.4 2.2 L19 5.8 M19 2.2 L15.4 5.8"/></g><circle cx="17.2" cy="4" r="0.6" fill="#d8eef5"/></svg>
<div class="dd" style="left:316.4px;top:288.6px;width:33.10000000000002px;height:10.699999999999989px"></div>
<div class="sm" style="left:320.30px;top:291.43px;font-size:4.2px;line-height:5.04px;color:#444;white-space:pre">All Devices</div>
<svg class="a" style="left:343.50px;top:292.95px" width="3" height="2" viewBox="0 0 3 2"><path d="M0.4 0.4 L1.5 1.5 L2.6 0.4" fill="none" stroke="#666" stroke-width="0.5"/></svg>
<div class="dd" style="left:351.2px;top:288.6px;width:56.10000000000002px;height:10.699999999999989px"></div>
<div class="sm" style="left:360.30px;top:291.43px;font-size:4.2px;line-height:5.04px;color:#444;white-space:pre">8/14 05:18 ~ now</div>
<svg class="a" style="left:401.30px;top:292.95px" width="3" height="2" viewBox="0 0 3 2"><path d="M0.4 0.4 L1.5 1.5 L2.6 0.4" fill="none" stroke="#666" stroke-width="0.5"/></svg>
<svg class="a" style="left:0;top:0" width="600" height="450" viewBox="0 0 600 450"><rect x="298.00" y="312.40" width="15" height="35.30" fill="#d4f0f9"/><path d="M298.40 347.7 V312.80 H312.60 V347.7" fill="none" stroke="#4db6cf" stroke-width="0.8"/><rect x="316.30" y="312.40" width="15" height="35.30" fill="#d4f0f9"/><path d="M316.70 347.7 V312.80 H330.90 V347.7" fill="none" stroke="#4db6cf" stroke-width="0.8"/><rect x="334.60" y="303.58" width="15" height="44.12" fill="#d4f0f9"/><path d="M335.00 347.7 V303.98 H349.20 V347.7" fill="none" stroke="#4db6cf" stroke-width="0.8"/><rect x="352.90" y="316.82" width="15" height="30.88" fill="#d4f0f9"/><path d="M353.30 347.7 V317.22 H367.50 V347.7" fill="none" stroke="#4db6cf" stroke-width="0.8"/><rect x="371.20" y="319.02" width="15" height="28.68" fill="#d4f0f9"/><path d="M371.60 347.7 V319.42 H385.80 V347.7" fill="none" stroke="#4db6cf" stroke-width="0.8"/><rect x="389.50" y="325.64" width="15" height="22.06" fill="#d4f0f9"/><path d="M389.90 347.7 V326.04 H404.10 V347.7" fill="none" stroke="#4db6cf" stroke-width="0.8"/></svg>
<div class="sm" style="right:306.50px;top:346.56px;font-size:3.9px;line-height:4.68px;color:#555;">0</div>
<div class="sm" style="right:306.50px;top:335.53px;font-size:3.9px;line-height:4.68px;color:#555;">5</div>
<div class="sm" style="right:306.50px;top:324.50px;font-size:3.9px;line-height:4.68px;color:#555;">10</div>
<div class="sm" style="right:306.50px;top:313.47px;font-size:3.9px;line-height:4.68px;color:#555;">15</div>
<div class="sm" style="right:306.50px;top:302.44px;font-size:3.9px;line-height:4.68px;color:#555;">20</div>
<div class="sm" style="left:275.50px;top:350.70px;width:30px;text-align:right;font-size:4.1px;line-height:4.2px;color:#555;transform-origin:100% 0;transform:rotate(-25deg)">8/14 05:18</div>
<div class="sm" style="left:293.80px;top:350.70px;width:30px;text-align:right;font-size:4.1px;line-height:4.2px;color:#555;transform-origin:100% 0;transform:rotate(-25deg)">8/14 06:18</div>
<div class="sm" style="left:312.10px;top:350.70px;width:30px;text-align:right;font-size:4.1px;line-height:4.2px;color:#555;transform-origin:100% 0;transform:rotate(-25deg)">8/14 07:18</div>
<div class="sm" style="left:330.40px;top:350.70px;width:30px;text-align:right;font-size:4.1px;line-height:4.2px;color:#555;transform-origin:100% 0;transform:rotate(-25deg)">8/14 08:18</div>
<div class="sm" style="left:348.70px;top:350.70px;width:30px;text-align:right;font-size:4.1px;line-height:4.2px;color:#555;transform-origin:100% 0;transform:rotate(-25deg)">8/14 09:18</div>
<div class="sm" style="left:367.00px;top:350.70px;width:30px;text-align:right;font-size:4.1px;line-height:4.2px;color:#555;transform-origin:100% 0;transform:rotate(-25deg)">now</div>
<svg class="a" style="left:543.4px;top:269.3px" width="22" height="8" viewBox="0 0 22 8"><rect x="1" y="3.3" width="4.6" height="1.4" fill="#3d7f8c"/><g stroke="#3d7f8c" stroke-width="0.7" fill="none"><path d="M7.2 1.2 L8.6 2.6 M12.8 1.2 L11.4 2.6 M7.2 6.8 L8.6 5.4 M12.8 6.8 L11.4 5.4"/></g><g fill="#3d7f8c"><path d="M9.1 1.6 V3.1 H7.6 Z M10.9 1.6 V3.1 H12.4 Z M9.1 6.4 V4.9 H7.6 Z M10.9 6.4 V4.9 H12.4 Z"/></g></svg>
<svg class="a" style="left:427.5px;top:291px" width="10" height="8" viewBox="0 0 10 8"><path d="M3.5 1 L0.8 3.3 L3.5 5.6 Z" fill="#2a7fa8"/><path d="M2.5 3.3 H5.5 Q8.3 3.3 8.3 6.8" fill="none" stroke="#2a7fa8" stroke-width="1.2"/></svg>
<div class="dd" style="left:523.3px;top:288.4px;width:36.10000000000002px;height:10.900000000000034px"></div>
<div class="sm" style="left:528.00px;top:291.33px;font-size:4.2px;line-height:5.04px;color:#444;white-space:pre">GarageWAP</div>
<svg class="a" style="left:552.90px;top:292.85px" width="3" height="2" viewBox="0 0 3 2"><path d="M0.4 0.4 L1.5 1.5 L2.6 0.4" fill="none" stroke="#666" stroke-width="0.5"/></svg>
<div class="sm" style="left:421.50px;width:80px;text-align:center;top:302.86px;font-size:4.9px;line-height:5.88px;color:#444;">parameter</div>
<div class="sm" style="left:486.50px;width:80px;text-align:center;top:302.86px;font-size:4.9px;line-height:5.88px;color:#444;">Status</div>
<div class="a" style="left:428.5px;top:312.9px;width:131.4px;height:0.9px;background:#5aaccc"></div>
<div class="a" style="left:428.5px;top:324.5px;width:131.4px;height:0.6px;background:#ebebeb"></div>
<div class="a" style="left:428.5px;top:336.2px;width:131.4px;height:0.6px;background:#ebebeb"></div>
<div class="a" style="left:428.5px;top:347.8px;width:131.4px;height:0.6px;background:#ebebeb"></div>
<div class="a" style="left:428.5px;top:359.5px;width:131.4px;height:0.6px;background:#ebebeb"></div>
<div class="sm" style="left:422.30px;width:80px;text-align:center;top:315.68px;font-size:4.2px;line-height:5.04px;color:#555;">CPU Utilisation</div>
<div class="sm" style="left:486.50px;width:80px;text-align:center;top:315.68px;font-size:4.2px;line-height:5.04px;color:#555;"><span style="color:#6b6b2a">6%</span></div>
<div class="sm" style="left:422.30px;width:80px;text-align:center;top:327.38px;font-size:4.2px;line-height:5.04px;color:#555;">Notification</div>
<div class="sm" style="left:486.50px;width:80px;text-align:center;top:327.38px;font-size:4.2px;line-height:5.04px;color:#555;"><span style="color:#d35a4a">0</span><span style="color:#c98a3a">/0/</span><span style="color:#666">1</span></div>
<div class="sm" style="left:422.30px;width:80px;text-align:center;top:339.48px;font-size:4.2px;line-height:5.04px;color:#555;">Uptime</div>
<div class="sm" style="left:486.50px;width:80px;text-align:center;top:339.48px;font-size:4.2px;line-height:5.04px;color:#555;"><span style="color:#7a7a3a">6 days 0 hours 26 minutes</span></div>
<div class="sm" style="left:422.30px;width:80px;text-align:center;top:350.68px;font-size:4.2px;line-height:5.04px;color:#555;">Associated Clients</div>
<div class="sm" style="left:486.50px;width:80px;text-align:center;top:350.68px;font-size:4.2px;line-height:5.04px;color:#555;"><span style="color:#7a4a3a">8</span></div>
<div class="sm" style="left:422.30px;width:80px;text-align:center;top:362.08px;font-size:4.2px;line-height:5.04px;color:#555;">Rogue Aps</div>
<div class="sm" style="left:486.50px;width:80px;text-align:center;top:362.08px;font-size:4.2px;line-height:5.04px;color:#555;"><span style="color:#d9534f">2</span></div>
<!--/PANELS-->
</body></html>
